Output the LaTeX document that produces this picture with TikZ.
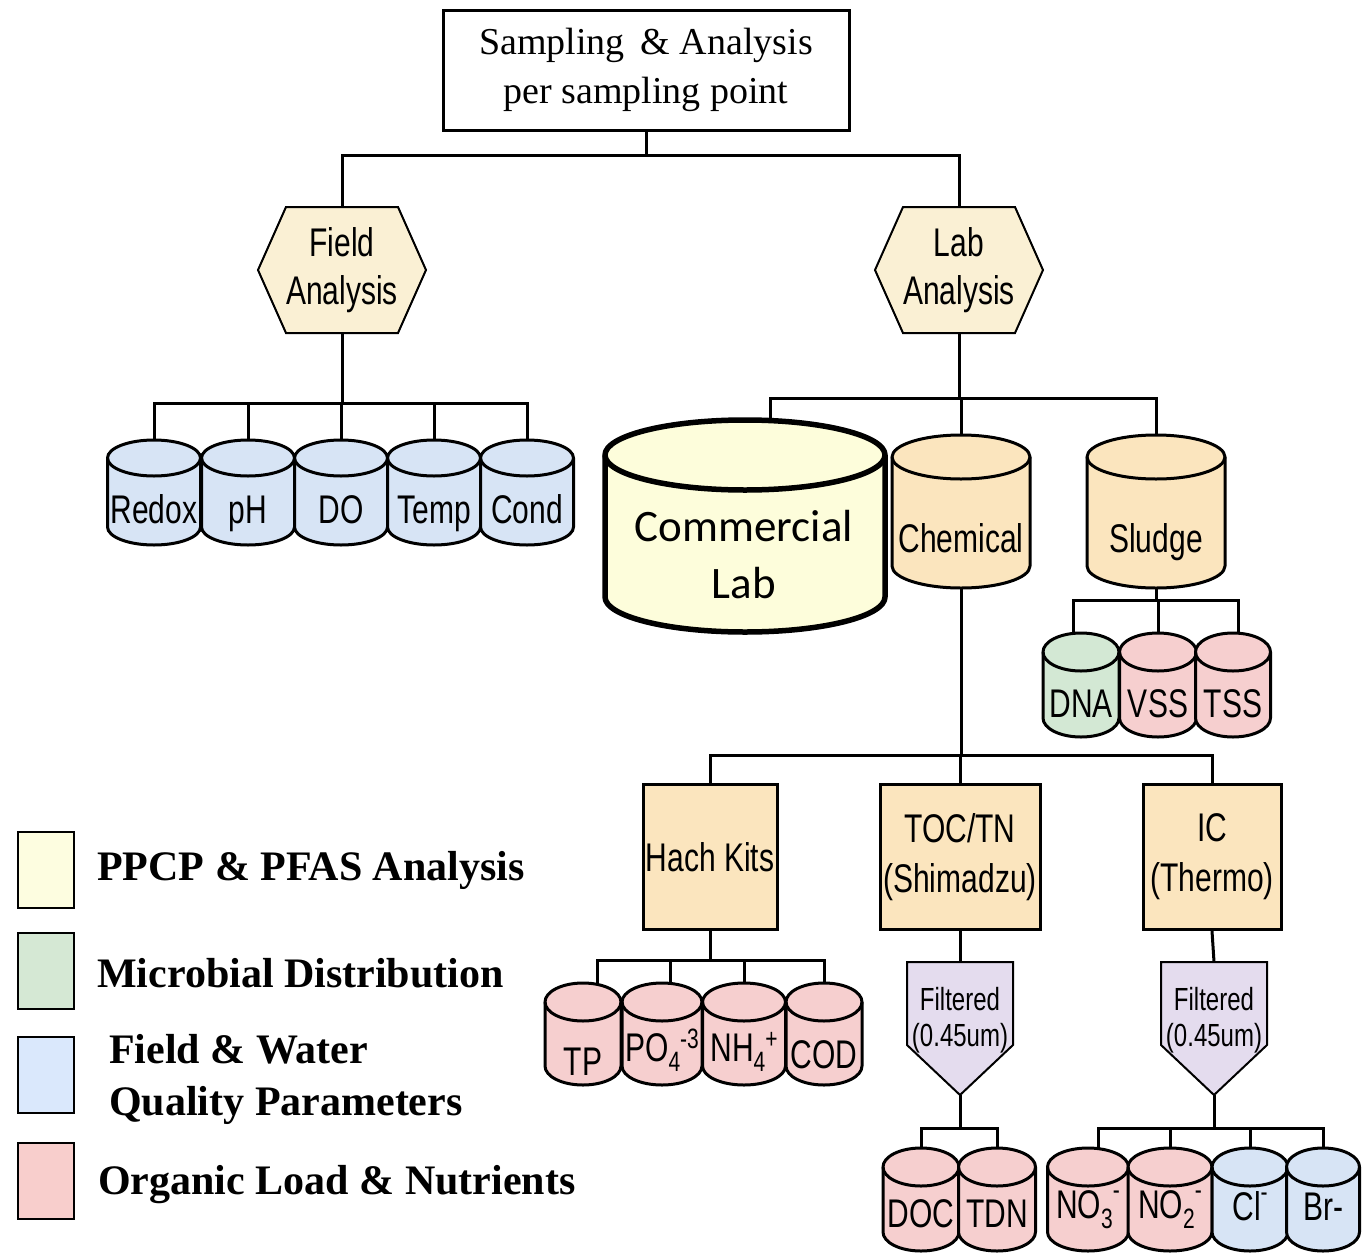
\documentclass[tikz,border=0pt]{standalone}
\usepackage{fontspec}
\setmainfont{Liberation Serif}
\newfontfamily\narfont[FakeStretch=0.75]{Liberation Sans}
\newfontfamily\calfont{Carlito}
\usetikzlibrary{calc}
\definecolor{cblue}{HTML}{D7E4F5}
\definecolor{cpink}{HTML}{F6CFCF}
\definecolor{cgreen}{HTML}{D3E8D4}
\definecolor{ctan}{HTML}{FBE5BE}
\definecolor{chex}{HTML}{FAF0D4}
\definecolor{ccomm}{HTML}{FDFDDB}
\definecolor{clav}{HTML}{E4DCEE}
\definecolor{lyellow}{HTML}{FDFDE0}
\definecolor{lgreen}{HTML}{D5E8D4}
\definecolor{lblue}{HTML}{DAE8FC}
\definecolor{lpink}{HTML}{F8CECC}
\tikzset{
  conn/.style={line width=3pt},
  cylline/.style={line width=3pt, line join=round},
  hexst/.style={line width=2pt, fill=chex, line join=miter},
  filtst/.style={line width=2pt, fill=clav},
  lbl/.style={font=\narfont\fontsize{40}{48}\selectfont, inner sep=0pt},
  boxst/.style={draw, line width=3pt, fill=ctan, inner sep=0pt, align=center, font=\narfont\fontsize{40}{50}\selectfont},
  filttxt/.style={inner sep=0pt, align=center, font=\narfont\fontsize{32}{36}\selectfont},
  legbox/.style={draw, line width=2pt, minimum width=56, minimum height=76, inner sep=0pt},
  legtxt/.style={anchor=west, inner sep=0pt, align=left, font=\bfseries\fontsize{42}{52}\selectfont},
}
\newcommand\subx[1]{\raisebox{-10pt}{\fontsize{28}{28}\selectfont #1}}
\newcommand\supx[1]{\raisebox{13pt}{\fontsize{28}{28}\selectfont #1}}
\newcommand\supm[1]{\raisebox{19pt}{\fontsize{28}{28}\selectfont #1}}
% name, cx, top, width, height, ry, fill, baseline offset, text
\newcommand\cyl[9]{%
  \node[inner sep=0pt, minimum width=#4, minimum height=#5] (#1) at (#2,{#3+#5/2}) {};
  \draw[cylline, fill=#7] ({#2-#4/2},{#3+#6}) -- ({#2-#4/2},{#3+#5-#6})
     arc[start angle=180, end angle=0, x radius=#4/2, y radius=#6]
     -- ({#2+#4/2},{#3+#6})
     arc[start angle=0, end angle=-180, x radius=#4/2, y radius=#6] -- cycle;
  \draw[cylline] ({#2-#4/2},{#3+#6}) arc[start angle=180, end angle=0, x radius=#4/2, y radius=#6];
  \node[lbl, anchor=base] (#1-t) at (#2,{#3+#8}) {#9};
}
% name, cx, cy, width, height, inset, text
\newcommand\hexa[7]{%
  \draw[hexst] ({#2-#4/2},#3) -- ({#2-#4/2+#6},{#3-#5/2}) -- ({#2+#4/2-#6},{#3-#5/2})
     -- ({#2+#4/2},#3) -- ({#2+#4/2-#6},{#3+#5/2}) -- ({#2-#4/2+#6},{#3+#5/2}) -- cycle;
  \node[inner sep=0pt, minimum width=#4, minimum height=#5, align=center,
        font=\narfont\fontsize{40}{48}\selectfont] (#1) at (#2,#3) {#7};
}
% name, cx, top, width, side, point, text
\newcommand\filt[7]{%
  \draw[filtst] ({#2-#4/2},#3) -- ({#2+#4/2},#3) -- ({#2+#4/2},{#3+#5}) -- (#2,{#3+#6})
     -- ({#2-#4/2},{#3+#5}) -- cycle;
  \node[inner sep=0pt, minimum width=#4, minimum height=#6] (#1) at (#2,{#3+#6/2}) {};
  \node[filttxt] (#1-t) at (#2,{#3+58}) {#7};
}
\begin{document}
\begin{tikzpicture}[x=1pt,y=-1pt]
\useasboundingbox (0,0) rectangle (1371,1258);
\fill[white] (0,0) rectangle (1371,1258);

% top box
\node[draw, line width=3pt, fill=white, minimum width=406, minimum height=120, inner sep=0pt,
      align=center, font=\fontsize{38}{49}\selectfont] (top) at (646,70)
      {Sampling \,\& Analysis\\per sampling point};

% hexagons
\hexa{field}{342}{270}{168}{126}{28}{Field\\Analysis}
\hexa{lab}{959}{270}{168}{126}{28}{Lab\\Analysis}

% field cylinders
\cyl{redox}{154}{440}{93}{105}{18}{cblue}{83}{Redox}
\cyl{ph}{248}{440}{93}{105}{18}{cblue}{83}{pH}
\cyl{do}{341}{440}{93}{105}{18}{cblue}{83}{DO}
\cyl{temp}{434}{440}{93}{105}{18}{cblue}{83}{Temp}
\cyl{cond}{527}{440}{93}{105}{18}{cblue}{83}{Cond}

% commercial lab
\node[inner sep=0pt, minimum width=280, minimum height=212] (comm) at (745,526) {};
\draw[line width=5.5pt, fill=ccomm, line join=round] (605,455) -- (605,597)
   arc[start angle=180, end angle=0, x radius=140, y radius=35] -- (885,455)
   arc[start angle=0, end angle=-180, x radius=140, y radius=35] -- cycle;
\draw[line width=5.5pt] (605,455) arc[start angle=180, end angle=0, x radius=140, y radius=35];
\node[inner sep=0pt, align=center, font=\calfont\fontsize{45}{57}\selectfont] (comm-t) at (744,555) {Commercial\\Lab};

% chemical, sludge
\cyl{chem}{961}{435}{138}{153}{22}{ctan}{117}{Chemical}
\cyl{sludge}{1156}{435}{138}{153}{22}{ctan}{117}{Sludge}

% sludge children
\cyl{dna}{1081}{633}{76}{104}{19}{cgreen}{84}{DNA}
\cyl{vss}{1158}{633}{77}{104}{19}{cpink}{84}{VSS}
\cyl{tss}{1233}{633}{75}{104}{19}{cpink}{84}{TSS}

% instrument boxes
\node[boxst, minimum width=134, minimum height=145] (hach) at (710,857) {Hach Kits};
\node[boxst, minimum width=160, minimum height=145] (toc) at (960,857) {TOC/TN\\(Shimadzu)};
\node[boxst, minimum width=138, minimum height=145] (ic) at (1212,857) {IC\\(Thermo)};

% hach cylinders
\cyl{tp}{583}{983}{76}{102}{19}{cpink}{92}{TP}
\cyl{po}{662}{983}{80}{102}{19}{cpink}{78}{PO\subx{4}\supx{-3}}
\cyl{nh}{744}{983}{83}{102}{19}{cpink}{78}{NH\subx{4}\supx{+}}
\cyl{cod}{824}{983}{76}{102}{19}{cpink}{85}{COD}

% filters
\filt{f1}{960}{962}{106}{83}{133}{Filtered\\(0.45um)}
\filt{f2}{1214}{962}{106}{83}{133}{Filtered\\(0.45um)}

% bottom cylinders
\cyl{doc}{921}{1148}{76}{103}{19}{cpink}{79}{DOC}
\cyl{tdn}{997}{1148}{77}{103}{19}{cpink}{79}{TDN}
\cyl{no3}{1088}{1148}{81}{103}{19}{cpink}{70}{NO\subx{3}\supm{-}}
\cyl{no2}{1170}{1148}{84}{103}{19}{cpink}{70}{NO\subx{2}\supm{-}}
\cyl{cl}{1250}{1148}{76}{103}{19}{cblue}{72}{Cl\supm{-}}
\cyl{br}{1323}{1148}{73}{103}{19}{cblue}{72}{Br-}

% junctions
\coordinate (j0) at (646,155);
\coordinate (jf) at (342,403);
\coordinate (jl) at (959,398);
\coordinate (js) at (1156,600);
\coordinate (jc) at (961,755);
\coordinate (jh) at (710,960);
\coordinate (jd) at (960,1128);
\coordinate (ji) at (1214,1128);

% connectors
\draw[conn] (top.south) -- (j0);
\draw[conn] (j0) -| (field.north);
\draw[conn] (j0) -| (lab.north);
\draw[conn] (field.south) -- (jf);
\foreach \n in {redox,ph,do,temp,cond} \draw[conn] (jf) -| (\n.north);
\draw[conn] (lab.south) -- (jl);
\draw[conn] (jl) -| ($(comm.north)+(25,0)$);
\draw[conn] (jl) -| (chem.north);
\draw[conn] (jl) -| (sludge.north);
\draw[conn] (sludge.south) -- (js);
\draw[conn] (js) -| ($(dna.north)+(-8,0)$);
\draw[conn] (js) -| (vss.north);
\draw[conn] (js) -| ($(tss.north)+(5,0)$);
\draw[conn] (chem.south) -- (jc);
\draw[conn] (jc) -| (hach.north);
\draw[conn] (jc) -| (toc.north);
\draw[conn] (jc) -| (ic.north);
\draw[conn] (hach.south) -- (jh);
\draw[conn] (jh) -| ($(tp.north)+(14,0)$);
\draw[conn] (jh) -| ($(po.north)+(8,0)$);
\draw[conn] (jh) -| (nh.north);
\draw[conn] (jh) -| (cod.north);
\draw[conn] (toc.south) -- (f1.north);
\draw[conn] (ic.south) -- (f2.north);
\draw[conn] (f1.south) -- (jd);
\draw[conn] (jd) -| (doc.north);
\draw[conn] (jd) -| (tdn.north);
\draw[conn] (f2.south) -- (ji);
\draw[conn] (ji) -| ($(no3.north)+(10,0)$);
\draw[conn] (ji) -| (no2.north);
\draw[conn] (ji) -| (cl.north);
\draw[conn] (ji) -| (br.north);

% legend
\node[legbox, fill=lyellow] (l1) at (46,870) {};
\node[legbox, fill=lgreen] (l2) at (46,971) {};
\node[legbox, fill=lblue] (l3) at (46,1075) {};
\node[legbox, fill=lpink] (l4) at (46,1181) {};
\node[legtxt] (l1t) at (97,870) {PPCP \& PFAS Analysis};
\node[legtxt] (l2t) at (97,973) {Microbial Distribution};
\node[legtxt] (l3t) at (109,1079) {Field \& Water\\Quality Parameters};
\node[legtxt] (l4t) at (98,1185) {Organic Load \& Nutrients};
\end{tikzpicture}
\end{document}
